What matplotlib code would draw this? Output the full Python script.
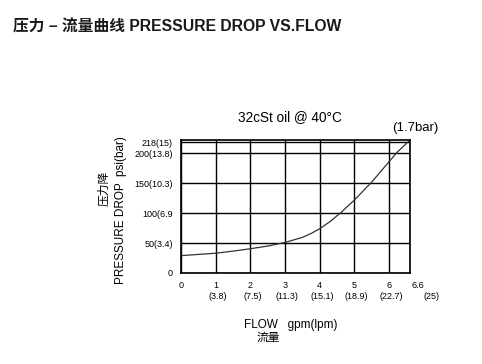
import matplotlib
matplotlib.use("Agg")
import matplotlib.pyplot as plt
import matplotlib.transforms as mtransforms

plt.rcParams["font.family"] = ["Liberation Sans", "Noto Sans CJK SC", "DejaVu Sans"]

# flow in gpm vs pressure drop in psi
flow_gpm = [0, 0.5, 1, 1.5, 2, 2.5, 3, 3.5, 3.75, 4, 4.3, 4.63, 5, 5.5, 6, 6.22, 6.6]
drop_psi = [29, 31, 33, 36.5, 40.5, 45, 51, 59.5, 66, 74, 86, 102, 122, 152, 186, 201, 222]

x_ticks = [0, 1, 2, 3, 4, 5, 6, 6.6]
x_labels = ["0", "1", "2", "3", "4", "5", "6", "6.6"]
x_lpm = ["", "(3.8)", "(7.5)", "(11.3)", "(15.1)", "(18.9)", "(22.7)", "(25)"]
y_ticks = [0, 50, 100, 150, 200, 218]
y_labels = ["0", "50(3.4)", "100(6.9", "150(10.3)", "200(13.8)", "218(15)"]

fig = plt.figure(figsize=(4.82, 3.64), dpi=100)
ax = fig.add_axes([181 / 482, 1 - 273 / 364, 229 / 482, 133 / 364])

ax.plot(flow_gpm, drop_psi, color="#333333", lw=0.9)
ax.set_xlim(0, 6.6)
ax.set_ylim(0, 222)

ax.set_xticks(x_ticks)
ax.set_xticklabels(x_labels, fontsize=6.5)
ax.set_yticks(y_ticks)
ax.set_yticklabels(y_labels, fontsize=6.5)
ax.tick_params(length=0, pad=6)
last = ax.xaxis.get_ticklabels()[-1]
last.set_transform(last.get_transform() + mtransforms.ScaledTranslation(8 / 100, 0, fig.dpi_scale_trans))

ax.grid(True, color="black", lw=1)
for s in ax.spines.values():
    s.set_linewidth(1.2)

# second row of x labels (lpm)
trans = mtransforms.blended_transform_factory(ax.transData, ax.transAxes)
for i, (xv, lab) in enumerate(zip(x_ticks, x_lpm)):
    dx = 2 if i < len(x_ticks) - 1 else 22
    ax.text(xv, -0.175, lab, transform=trans + mtransforms.ScaledTranslation(dx / 100, 0, fig.dpi_scale_trans),
            ha="center", va="center", fontsize=6.5)

fig.text(290 / 482, 1 - 117 / 364, "32cSt oil @ 40°C", fontsize=9.8, ha="center", va="center")
fig.text(415 / 482, 1 - 128 / 364, "(1.7bar)", fontsize=9.5, ha="center", va="center")

fig.text(13 / 482, 1 - 27 / 364, "压力 – 流量曲线 PRESSURE DROP VS.FLOW",
         fontsize=11.3, fontweight="bold", ha="left", va="center", color="#1a1a1a")
fig.text(104 / 482, 1 - 188 / 364, "压力降", rotation=90, fontsize=8.5, ha="center", va="center")
fig.text(121 / 482, 1 - 210 / 364, "PRESSURE DROP  psi(bar)", rotation=90, fontsize=8.5,
         ha="center", va="center")
fig.text(291 / 482, 1 - 325 / 364, "FLOW   gpm(lpm)", fontsize=8.5, ha="center", va="center")
fig.text(268 / 482, 1 - 338 / 364, "流量", fontsize=8.5, ha="center", va="center")

fig.savefig("out.png", dpi=100)
